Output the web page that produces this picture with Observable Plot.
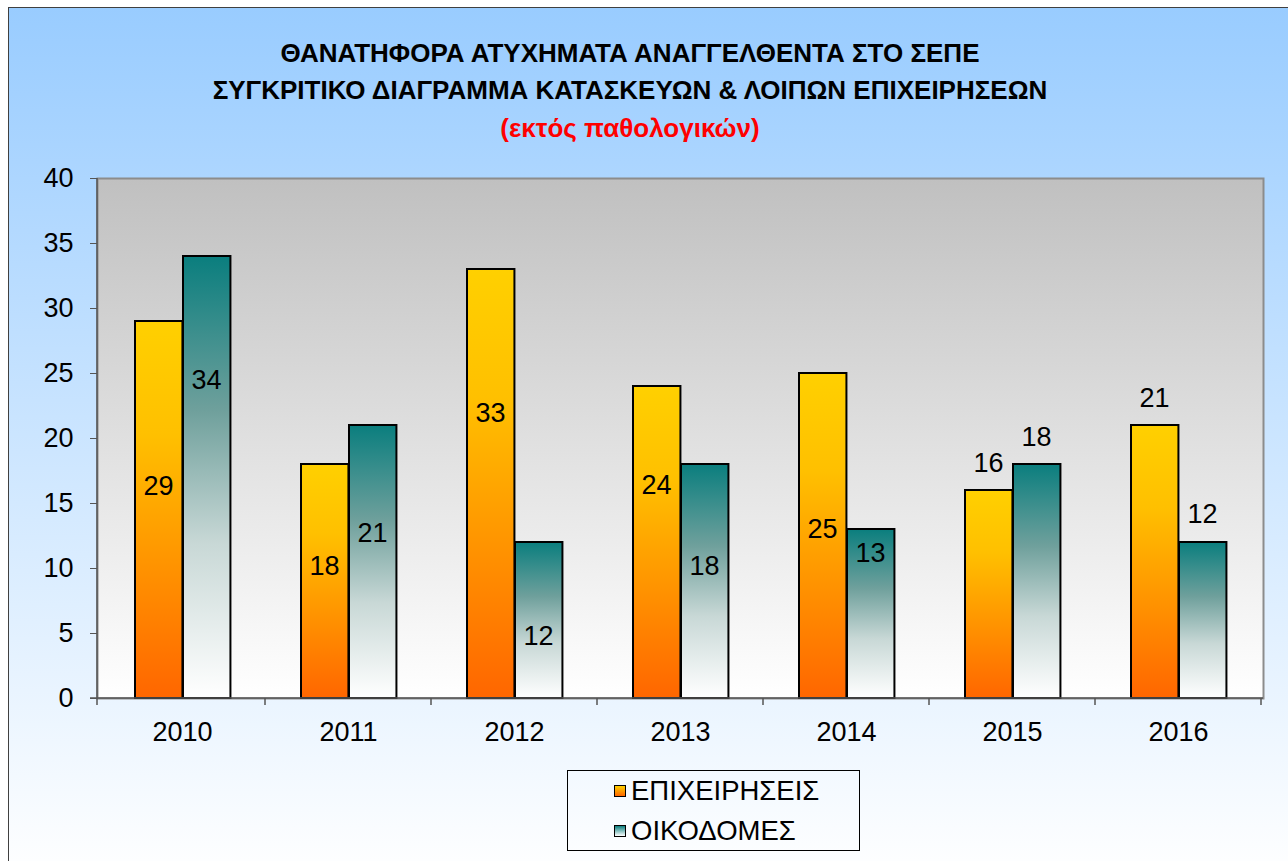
<!DOCTYPE html>
<html>
<head>
<meta charset="utf-8">
<script src="https://cdn.jsdelivr.net/npm/d3@7"></script>
<script src="https://cdn.jsdelivr.net/npm/@observablehq/plot@0.6"></script>
<style>
  html, body { margin: 0; padding: 0; background: #fff; width: 1288px; height: 861px; overflow: hidden; }
  #frame {
    position: absolute; left: 8px; top: 7px; width: 1290px; height: 870px;
    border-left: 1px solid #404040; border-top: 1px solid #404040;
    background: linear-gradient(to bottom, #99ccff 0%, #ffffff 100%);
  }
  .title {
    position: absolute; left: 0; width: 1260px; text-align: center; line-height: 30px;
    font-family: "Liberation Sans", Arial, sans-serif; font-weight: bold; font-size: 26px; color: #000;
  }
  #chart { position: absolute; left: 0; top: 160px; }
  #legend {
    position: absolute; left: 567px; top: 770px; width: 293px; height: 81px;
    border: 1px solid #000; box-sizing: border-box;
    font-family: "Liberation Sans", Arial, sans-serif; font-size: 27.5px; color: #000;
  }
  .item { position: absolute; left: 46px; height: 32px; display: flex; align-items: center; }
  .sw { width: 10px; height: 10px; border: 1.5px solid #000; margin-right: 5px; }
</style>
</head>
<body>
<div id="frame"></div>
<div class="title" style="top:38px">ΘΑΝΑΤΗΦΟΡΑ ΑΤΥΧΗΜΑΤΑ ΑΝΑΓΓΕΛΘΕΝΤΑ ΣΤΟ ΣΕΠΕ</div>
<div class="title" style="top:75px">ΣΥΓΚΡΙΤΙΚΟ ΔΙΑΓΡΑΜΜΑ ΚΑΤΑΣΚΕΥΩΝ &amp; ΛΟΙΠΩΝ ΕΠΙΧΕΙΡΗΣΕΩΝ</div>
<div class="title" style="top:113px;color:#ff0000">(εκτός παθολογικών)</div>
<div id="chart"></div>
<div id="legend"></div>
<script>
// ---- data ----
const years = ["2010", "2011", "2012", "2013", "2014", "2015", "2016"];
const seriesNames = ["ΕΠΙΧΕΙΡΗΣΕΙΣ", "ΟΙΚΟΔΟΜΕΣ"];
const epixeiriseis = [29, 18, 33, 24, 25, 16, 21];
const oikodomes = [34, 21, 12, 18, 13, 18, 12];
// where each data label sits, in y-axis units (labels were moved by hand in the original)
const epixeiriseisLabelAt = [16.3, 10.2, 21.9, 16.4, 13.0, 18.1, 23.1];
const oikodomesLabelAt = [24.5, 12.7, 4.8, 10.2, 11.2, 20.1, 14.2];
const yTicks = [0, 5, 10, 15, 20, 25, 30, 35, 40];

const epiRows = years.map((y, i) => ({year: y, value: epixeiriseis[i], labelAt: epixeiriseisLabelAt[i]}));
const oikRows = years.map((y, i) => ({year: y, value: oikodomes[i], labelAt: oikodomesLabelAt[i]}));

const W = 1288, H = 600, mL = 97, mR = 25, mT = 18, mB = 62;
const bw = (W - mL - mR) / years.length;
const FS = 27;

const font = "'Liberation Sans', Arial, sans-serif";
const plot = Plot.plot({
  width: W, height: H,
  marginLeft: mL, marginRight: mR, marginTop: mT, marginBottom: mB,
  style: {background: "transparent", fontFamily: font, fontSize: FS + "px", color: "#000", overflow: "visible"},
  x: {domain: years, padding: 0, label: null},
  y: {domain: [0, 40], label: null},
  marks: [
    Plot.frame({fill: "url(#plotBg)", stroke: "#8c8c8c", strokeWidth: 2}),
    Plot.barY(epiRows, {x: "year", y: "value", fill: "url(#gOrange)", stroke: "#000", strokeWidth: 2,
      insetLeft: 36, insetRight: bw - 84}),
    Plot.barY(oikRows, {x: "year", y: "value", fill: "url(#gTeal)", stroke: "#000", strokeWidth: 2,
      insetLeft: 84, insetRight: bw - 132}),
    Plot.text(epiRows, {x: "year", y: "labelAt", text: d => String(d.value), dx: -24, fontSize: FS, fill: "#000"}),
    Plot.text(oikRows, {x: "year", y: "labelAt", text: d => String(d.value), dx: 24, fontSize: FS, fill: "#000"}),
    Plot.axisY({ticks: yTicks, tickSize: 7, tickPadding: 17, fontSize: FS, label: null, stroke: "#555"}),
    Plot.axisX({tickSize: 0, tickPadding: 23, fontSize: FS, label: null})
  ]
});

// gradients + axis lines and boundary ticks
const svg = d3.select(plot);
const defs = svg.insert("defs", ":first-child");
const lg = (id, stops) => {
  const g = defs.append("linearGradient").attr("id", id).attr("x1", 0).attr("y1", 0).attr("x2", 0).attr("y2", 1);
  stops.forEach(([o, c]) => g.append("stop").attr("offset", o).attr("stop-color", c));
};
lg("plotBg", [[0, "#c0c0c0"], [1, "#ffffff"]]);
lg("gOrange", [[0, "#ffd000"], [0.3, "#ffc000"], [1, "#ff6600"]]);
lg("gTeal", [[0, "#0a7e7e"], [0.35, "#6fa09c"], [0.65, "#c8d8d6"], [1, "#ffffff"]]);

const xs = plot.scale("x"), ys = plot.scale("y");
const y0 = ys.apply(0), y40 = ys.apply(40);
const g = svg.append("g").attr("stroke", "#555").attr("stroke-width", 1.5);
g.append("line").attr("x1", mL).attr("x2", mL).attr("y1", y40).attr("y2", y0 + 7);
g.append("line").attr("x1", mL - 7).attr("x2", W - mR).attr("y1", y0).attr("y2", y0);
years.forEach((yr) => {
  const x = xs.apply(yr) + xs.bandwidth;
  g.append("line").attr("x1", x).attr("x2", x).attr("y1", y0).attr("y2", y0 + 7);
});
document.getElementById("chart").appendChild(plot);

// legend
const leg = document.getElementById("legend");
const swFill = ["linear-gradient(#ffd000, #ff6600)", "linear-gradient(#0a7e7e, #ffffff)"];
seriesNames.forEach((n, i) => {
  const it = document.createElement("div");
  it.className = "item";
  it.style.top = (4 + i * 40) + "px";
  const sw = document.createElement("div");
  sw.className = "sw";
  sw.style.background = swFill[i];
  it.appendChild(sw);
  const t = document.createElement("span");
  t.textContent = n;
  it.appendChild(t);
  leg.appendChild(it);
});
</script>
</body>
</html>
